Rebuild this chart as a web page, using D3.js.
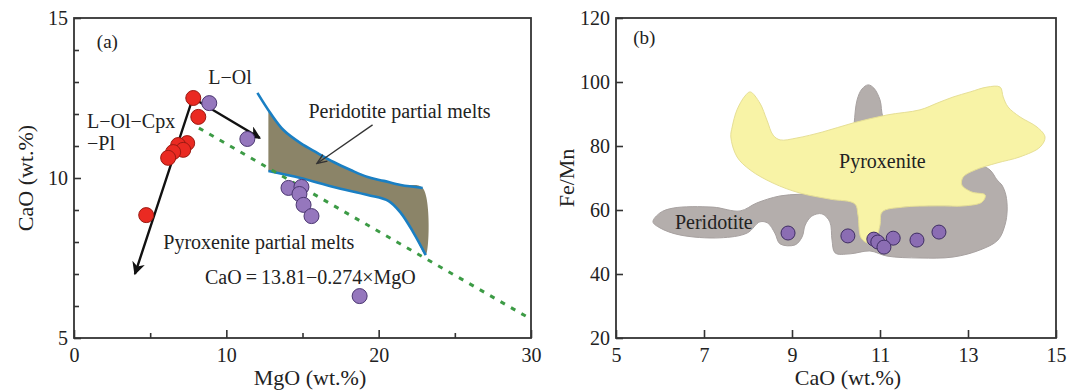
<!DOCTYPE html>
<html>
<head>
    <meta charset="UTF-8">
    <title>CaO - MgO and Fe/Mn - CaO</title>
    <style>
        body { margin: 0; background: #fff; }
        svg text { font-family: "Liberation Serif", "Times New Roman", serif; fill: #222; }
        .axis path { display: none; }
        .axis line { stroke: #333; stroke-width: 1.6px; }
        .axis text { font-size: 20px; fill: #222; }
        .frame { fill: none; stroke: #333; stroke-width: 1.8px; }
    </style>
</head>
<body>
<script src="https://cdn.jsdelivr.net/npm/d3@7"></script>
<script>
    // panel (a) samples
    var redMgO = [7.83, 8.16, 7.43, 6.84, 7.17, 6.51, 6.18, 4.74];
    var redCaO = [12.50, 11.91, 11.09, 11.03, 10.88, 10.81, 10.63, 8.84];
    var purpleMgO = [8.88, 11.38, 14.08, 14.93, 14.80, 15.07, 15.59, 18.75];
    var purpleCaO = [12.34, 11.22, 9.69, 9.72, 9.50, 9.16, 8.81, 6.31];

    // peridotite partial melt field
    var upperMgO = [12.04, 12.89, 13.75, 14.87, 15.99, 17.04, 18.16, 19.28, 20.33, 21.45, 22.89];
    var upperCaO = [12.66, 12.03, 11.50, 11.09, 10.78, 10.50, 10.25, 10.03, 9.91, 9.78, 9.69];
    var lowerMgO = [12.76, 14.87, 17.04, 19.28, 20.66, 21.45, 22.30, 23.09];
    var lowerCaO = [10.22, 10.00, 9.72, 9.47, 9.28, 8.91, 8.28, 7.59];

    // crystallisation trends (arrows) and regression line
    var trendMgO = [4.0, 7.8, 12.2];
    var trendCaO = [7.0, 12.5, 11.25];
    var regMgO = [8.2, 30];
    var regCaO = [11.56, 5.59];

    var xTicksA = [0, 10, 20, 30], xMinorA = [5, 15, 25];
    var yTicksA = [5, 10, 15], yMinorA = [6, 7, 8, 9, 11, 12, 13, 14];

    // panel (b) samples
    var caoB = [8.91, 10.27, 10.86, 10.95, 11.30, 11.09, 11.84, 12.34];
    var femnB = [52.8, 51.9, 50.9, 50.0, 51.2, 48.4, 50.6, 53.1];

    var peridotiteCaO = [5.84, 6.00, 6.30, 7.20, 7.82, 8.20, 8.73, 9.64, 10.32, 10.41, 10.48, 10.59, 10.73, 10.86, 11.00, 11.07, 11.45, 12.82, 13.16, 13.50, 13.66, 13.77, 13.86, 13.89, 13.84, 13.68, 13.27, 12.66, 11.91, 11.16, 10.77, 10.32, 9.98, 9.91, 9.86, 9.68, 9.45, 9.30, 9.23, 9.07, 8.73, 8.61, 8.45, 8.27, 7.98, 7.36, 6.45, 6.00];
    var peridotiteFeMn = [56.3, 59.1, 60.6, 60.9, 59.7, 62.2, 64.4, 65.6, 69.4, 86.6, 94.4, 97.8, 99.1, 98.1, 94.4, 88.8, 78.8, 74.1, 74.7, 72.5, 69.4, 67.8, 64.7, 60.0, 55.3, 50.6, 47.5, 45.3, 45.0, 45.6, 47.2, 46.3, 46.6, 50.6, 56.3, 58.8, 58.1, 55.3, 51.6, 49.1, 49.4, 52.8, 55.9, 56.3, 52.8, 51.3, 52.2, 54.4];

    var pyroxeniteCaO = [8.05, 8.27, 8.43, 8.57, 8.73, 9.11, 9.70, 10.39, 11.16, 11.91, 12.30, 12.66, 13.05, 13.43, 13.73, 13.80, 13.91, 14.18, 14.57, 14.75, 14.64, 14.18, 13.66, 13.16, 12.89, 12.86, 13.09, 13.39, 13.32, 12.93, 12.30, 11.52, 11.05, 11.00, 10.91, 10.73, 10.57, 10.50, 10.43, 9.86, 9.18, 8.57, 8.05, 7.75, 7.61, 7.64, 7.75, 7.93];
    var pyroxeniteFeMn = [96.9, 93.4, 88.1, 83.4, 81.9, 82.5, 84.4, 87.2, 89.7, 91.3, 93.4, 95.3, 96.9, 98.4, 98.4, 95.3, 92.2, 89.1, 85.9, 82.8, 79.7, 76.6, 74.7, 72.5, 70.3, 67.8, 65.6, 64.7, 62.5, 61.3, 61.3, 60.9, 59.4, 55.3, 51.3, 49.7, 51.3, 58.4, 61.9, 63.4, 65.3, 68.4, 72.5, 76.6, 82.8, 85.9, 91.3, 95.6];

    var xTicksB = [5, 7, 9, 11, 13, 15];
    var yTicksB = [20, 40, 60, 80, 100, 120];

    var zip = (a, b) => a.map((v, i) => [v, b[i]]);

    var svg = d3.select("body").append("svg")
        .attr("width", 1067)
        .attr("height", 392);

    var defs = svg.append("defs");
    defs.append("marker")
        .attr("id", "arrowBlack")
        .attr("viewBox", "0 0 10 10")
        .attr("refX", 9).attr("refY", 5)
        .attr("markerUnits", "userSpaceOnUse")
        .attr("markerWidth", 17).attr("markerHeight", 13)
        .attr("orient", "auto-start-reverse")
        .append("path")
        .attr("d", "M0,0 L10,5 L0,10 L3,5 z")
        .attr("fill", "#111");
    defs.append("marker")
        .attr("id", "arrowThin")
        .attr("viewBox", "0 0 10 10")
        .attr("refX", 9).attr("refY", 5)
        .attr("markerUnits", "userSpaceOnUse")
        .attr("markerWidth", 13).attr("markerHeight", 10)
        .attr("orient", "auto")
        .append("path")
        .attr("d", "M0,1 L10,5 L0,9")
        .attr("fill", "none")
        .attr("stroke", "#333")
        .attr("stroke-width", 1.4);

    // shared axis drawing: ticks point inward
    function drawAxes(x, y, xMajor, xMinor, yMajor, yMinor) {
        var x0 = x.range()[0], x1 = x.range()[1];
        var y0 = y.range()[0], y1 = y.range()[1];

        svg.append("g").attr("class", "axis")
            .attr("transform", `translate(0,${y0})`)
            .call(d3.axisBottom(x).tickValues(xMajor).tickSize(-8).tickPadding(10).tickFormat(d3.format("d")));
        if (xMinor.length)
            svg.append("g").attr("class", "axis")
                .attr("transform", `translate(0,${y0})`)
                .call(d3.axisBottom(x).tickValues(xMinor).tickSize(-5).tickFormat(""));

        svg.append("g").attr("class", "axis")
            .attr("transform", `translate(${x0},0)`)
            .call(d3.axisLeft(y).tickValues(yMajor).tickSize(-7).tickPadding(6).tickFormat(d3.format("d")));
        if (yMinor.length)
            svg.append("g").attr("class", "axis")
                .attr("transform", `translate(${x0},0)`)
                .call(d3.axisLeft(y).tickValues(yMinor).tickSize(-5).tickFormat(""));

        svg.append("rect").attr("class", "frame")
            .attr("x", x0).attr("y", y1)
            .attr("width", x1 - x0).attr("height", y0 - y1);
    }

    function label(txt, px, py, size, anchor, rotate) {
        var t = svg.append("text")
            .attr("x", px).attr("y", py)
            .style("font-size", size + "px")
            .style("text-anchor", anchor || "start")
            .text(txt);
        if (rotate) t.attr("transform", `rotate(-90,${px},${py})`);
        return t;
    }

    // ---------- panel (a) ----------
    var xA = d3.scaleLinear().domain([0, 30]).range([74, 531]);
    var yA = d3.scaleLinear().domain([5, 15]).range([338, 18]);

    var lineA = d3.line().x(d => xA(d[0])).y(d => yA(d[1]));
    var curveA = d3.line().x(d => xA(d[0])).y(d => yA(d[1])).curve(d3.curveCatmullRom.alpha(0.5));

    var upper = zip(upperMgO, upperCaO);
    var lower = zip(lowerMgO, lowerCaO);

    // shaded field between the two melt curves
    var field = [[lowerMgO[0], 12.15]]
        .concat(upper.filter(d => d[0] > lowerMgO[0]))
        .concat(lower.slice().reverse());
    svg.append("path")
        .attr("d", curveA(field) + "Z")
        .attr("fill", "#8b8468");

    svg.append("path")
        .attr("d", curveA(upper))
        .attr("fill", "none").attr("stroke", "#1a7fc3").attr("stroke-width", 2.6);
    svg.append("path")
        .attr("d", curveA(lower))
        .attr("fill", "none").attr("stroke", "#1a7fc3").attr("stroke-width", 2.6);

    svg.append("path")
        .attr("d", lineA(zip(regMgO, regCaO)))
        .attr("fill", "none").attr("stroke", "#3c9b45")
        .attr("stroke-width", 3).attr("stroke-dasharray", "5,7");

    svg.append("path")
        .attr("d", lineA(zip(trendMgO, trendCaO)))
        .attr("fill", "none").attr("stroke", "#111").attr("stroke-width", 2.4)
        .attr("marker-start", "url(#arrowBlack)")
        .attr("marker-end", "url(#arrowBlack)");

    // pointer to the peridotite field
    svg.append("path")
        .attr("d", lineA([[19.6, 11.66], [16.0, 10.47]]))
        .attr("fill", "none").attr("stroke", "#333").attr("stroke-width", 1.3)
        .attr("marker-end", "url(#arrowThin)");

    svg.append("g").selectAll("circle")
        .data(zip(purpleMgO, purpleCaO))
        .enter().append("circle")
        .attr("cx", d => xA(d[0])).attr("cy", d => yA(d[1]))
        .attr("r", 7.5)
        .attr("fill", "#9577bd").attr("stroke", "#4a3670").attr("stroke-width", 1);

    svg.append("g").selectAll("circle")
        .data(zip(redMgO, redCaO))
        .enter().append("circle")
        .attr("cx", d => xA(d[0])).attr("cy", d => yA(d[1]))
        .attr("r", 7.5)
        .attr("fill", "#ea2a22").attr("stroke", "#9b1a12").attr("stroke-width", 1);

    drawAxes(xA, yA, xTicksA, xMinorA, yTicksA, yMinorA);

    label("(a)", xA(1.5), yA(14.06), 19);
    label("L\u2212Ol", xA(8.82), yA(12.94), 20);
    label("L\u2212Ol\u2212Cpx", xA(0.86), yA(11.56), 20);
    label("\u2212Pl", xA(0.86), yA(10.88), 20);
    label("Peridotite partial melts", xA(15.39), yA(11.88), 20);
    label("Pyroxenite partial melts", xA(5.86), yA(7.78), 20);
    label("CaO\u2009=\u200913.81\u22120.274\u00d7MgO", xA(8.6), yA(6.69), 20);

    label("MgO (wt.%)", 310, 385, 22, "middle");
    label("CaO (wt.%)", 33, 178, 22, "middle", true);

    // ---------- panel (b) ----------
    var xB = d3.scaleLinear().domain([5, 15]).range([616, 1056]);
    var yB = d3.scaleLinear().domain([20, 120]).range([338, 18]);

    var blob = d3.line().x(d => xB(d[0])).y(d => yB(d[1])).curve(d3.curveCatmullRomClosed.alpha(0.5));

    svg.append("path")
        .attr("d", blob(zip(peridotiteCaO, peridotiteFeMn)))
        .attr("fill", "#b4aeac").attr("stroke", "#a7a1a0").attr("stroke-width", 1);
    svg.append("path")
        .attr("d", blob(zip(pyroxeniteCaO, pyroxeniteFeMn)))
        .attr("fill", "#f8f3a6").attr("stroke", "#e6df95").attr("stroke-width", 1);

    svg.append("g").selectAll("circle")
        .data(zip(caoB, femnB))
        .enter().append("circle")
        .attr("cx", d => xB(d[0])).attr("cy", d => yB(d[1]))
        .attr("r", 7)
        .attr("fill", "#8b6db3").attr("stroke", "#3f2d63").attr("stroke-width", 1);

    drawAxes(xB, yB, xTicksB, [], yTicksB, []);

    label("(b)", xB(5.39), yB(111.9), 19);
    label("Pyroxenite", xB(10.07), yB(73.1), 20);
    label("Peridotite", xB(6.34), yB(54.1), 20);

    label("CaO (wt.%)", 848, 385, 22, "middle");
    label("Fe/Mn", 574, 178, 22, "middle", true);
</script>
</body>
</html>
